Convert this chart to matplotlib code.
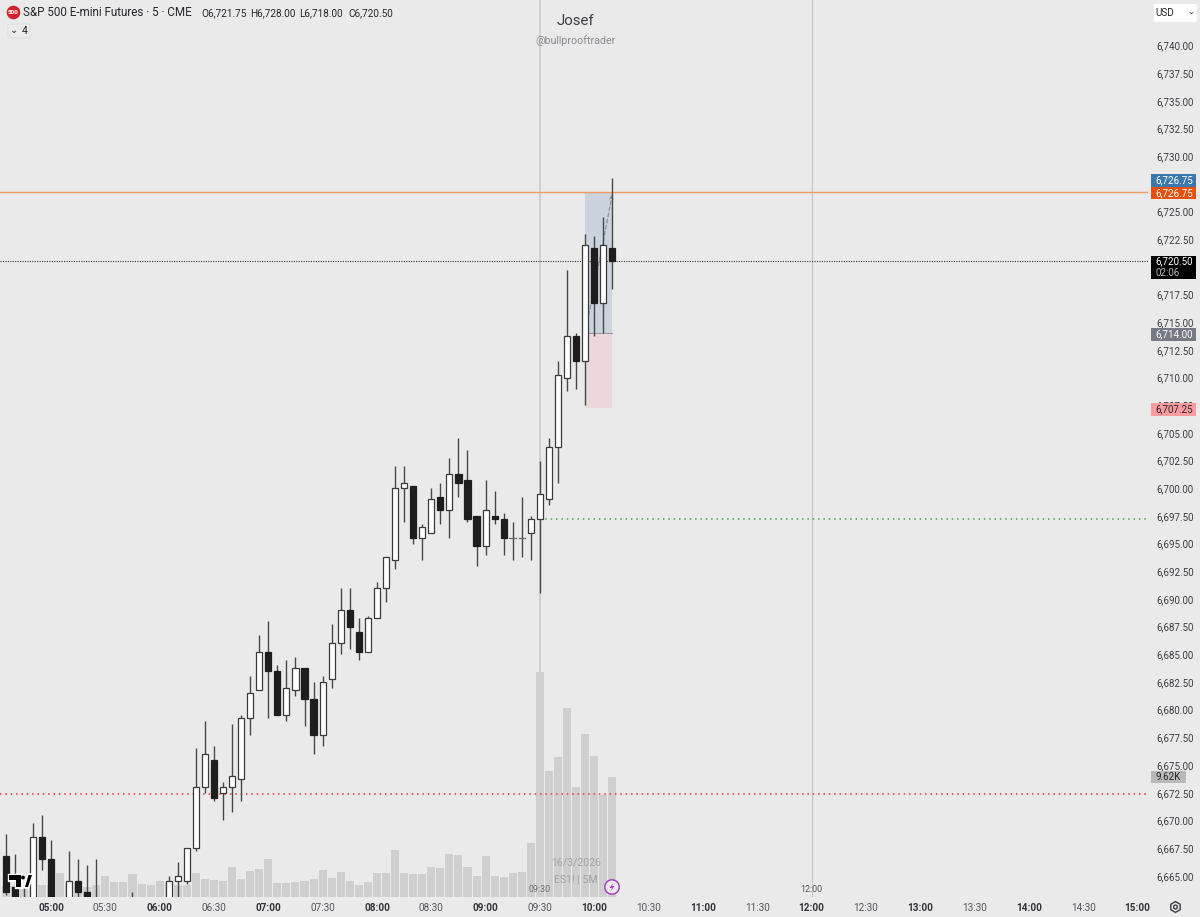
""" ES1! 5 minute candles with volume, TradingView look """

import matplotlib
import matplotlib.pyplot as plt
import matplotlib.patheffects as pe
from matplotlib.patches import Circle, FancyBboxPatch, Polygon, Rectangle, RegularPolygon

matplotlib.use('Agg')
plt.rcParams['font.family'] = ['Roboto', 'DejaVu Sans']

W, H = 1200, 917
BG = "#eaeaea"

# bar index 0 is 05:00, one bar is 5 minutes
BAR_START = -5
OPENS = [6666.75, 6664, 6662, 6660, 6668.5, 6666.5, 6660, 6661, 6664.5, 6663.5, 6661,
         6660, 6660, 6660, 6660, 6660, 6660, 6660, 6661, 6664.5, 6664.5, 6667.5, 6673,
         6675.5, 6672.5, 6673, 6673.75, 6679.25, 6681.75, 6685.25, 6683.5, 6679.5, 6681.75,
         6683.75, 6681, 6677.75, 6682.75, 6686, 6689, 6687, 6685.25, 6688.25, 6691, 6693.5,
         6700, 6700.25, 6695.5, 6696, 6699.25, 6698, 6701.25, 6700.75, 6697.5, 6694.75,
         6697.5, 6697.25, 6695.5, 6695.5, 6696, 6697.25, 6699, 6703.75, 6710, 6713.75,
         6711.5, 6721.75, 6716.75, 6721.75]
HIGHS = [6668.75, 6667, 6664, 6669.75, 6670.5, 6668.25, 6662, 6667.25, 6666.5, 6666, 6666.5,
         6662, 6662, 6662, 6663.5, 6662, 6662, 6662, 6665, 6666.25, 6667.5, 6676.5, 6679,
         6676.75, 6673.5, 6678.75, 6679.5, 6683, 6686.75, 6688, 6684, 6684.5, 6684.75,
         6683.75, 6682.5, 6683, 6687.75, 6691, 6691, 6688.25, 6688.5, 6691.5, 6693.75, 6702,
         6702, 6700.25, 6696.75, 6700, 6700.5, 6702.75, 6704.5, 6703.5, 6697.5, 6700.75,
         6699.75, 6697.75, 6697, 6699.25, 6697.5, 6702.5, 6704.5, 6711.5, 6719.75, 6714,
         6723, 6722.75, 6724.5, 6728]
LOWS = [6663.25, 6660, 6660, 6659, 6665.5, 6659, 6658, 6660, 6662, 6660, 6659,
        6658, 6658, 6658, 6658, 6658, 6658, 6658, 6660, 6662, 6664.25, 6667.25, 6672.5,
        6671.75, 6670, 6670.75, 6671.75, 6677.75, 6681.75, 6679.25, 6679.5, 6679, 6681.25,
        6678.5, 6676, 6676.75, 6682, 6685, 6685.5, 6684.5, 6685.25, 6688.25, 6689.75, 6692.75,
        6697, 6695, 6693.5, 6696, 6696.75, 6695.5, 6699.25, 6697, 6693, 6694,
        6696.75, 6694, 6693.5, 6693.75, 6693.5, 6690.5, 6698.5, 6700.5, 6708.75, 6709,
        6707.5, 6713.75, 6714, 6718]
CLOSES = [6663.5, 6661, 6661, 6668.5, 6666.5, 6660, 6661, 6664.5, 6663.5, 6661, 6660,
          6660, 6660, 6660, 6660, 6660, 6660, 6660, 6664.5, 6665, 6667.5, 6673, 6676,
          6672, 6673, 6674, 6679.25, 6681.5, 6685.25, 6683.5, 6679.5, 6682, 6683.75,
          6681, 6677.75, 6682.5, 6686, 6689, 6687.5, 6685.25, 6688.25, 6691, 6693.75, 6700,
          6700.5, 6695.5, 6696.5, 6699, 6698, 6701.25, 6700.5, 6697.25, 6694.75, 6698,
          6697.25, 6695.5, 6695.5, 6695.5, 6697.25, 6699.5, 6703.75, 6710.25, 6713.75, 6711.5,
          6722, 6716.75, 6722, 6720.5]
VOLUMES_K = [0.9, 0.9, 0.9, 0.9, 0.96, 0.96, 1.9, 1.15, 1.15, 0.8, 0.96,
             1.66, 1.23, 1.2, 1.84, 1.04, 0.94, 1.28, 1.15, 0.96, 0.96, 1.9, 1.42,
             1.36, 1.28, 2.38, 1.44, 2.09, 2.25, 3.05, 1.12, 1.12, 1.23,
             1.28, 1.42, 2.14, 1.5, 2.0, 1.28, 0.94, 1.18, 1.95, 1.9, 3.77,
             1.95, 1.84, 1.84, 2.43, 2.33, 3.45, 3.39, 2.38, 1.71, 3.29,
             1.66, 1.6, 1.9, 2.0, 4.33, 18.02, 10.1, 11.23, 15.13, 8.82,
             13.07, 11.28, 8.12, 9.62]

PRICE_TICKS = [6665 + 2.5 * k for k in range(31)]
COVERED_TICKS = [6720.0, 6727.5]  # sit fully under the price tags
TIME_LABELS = ["05:00", "05:30", "06:00", "06:30", "07:00", "07:30", "08:00", "08:30", "09:00",
               "09:30", "10:00", "10:30", "11:00", "11:30", "12:00", "12:30", "13:00", "13:30",
               "14:00", "14:30", "15:00"]

ENTRY, TARGET, STOP = 6714.0, 6726.75, 6707.25
LAST = 6720.5
GREEN_LEVEL, RED_LEVEL = 6697.25, 6672.4
OPEN_BAR, NOON_BAR = 54, 84
POS_START, POS_END = 59, 62


def px(x, y):
    """ Figure fraction from picture pixels """
    return x / W, 1 - y / H


def scale_tag(fig, top, bottom, text, face, color="white", right=1196, text_x=1174):
    """ Price scale tag on the right side """
    fig.patches.append(Rectangle((1151, H - bottom), right - 1151, bottom - top, transform=None,
                                 fc=face, ec="none", zorder=19))
    fig.text(*px(text_x, (top + bottom) / 2), text, fontsize=7, color=color, ha="center",
             va="center", zorder=20)


fig = plt.figure(figsize=(12, 9.17), dpi=100, facecolor=BG)

# volume, 9.62K is 120 px, sits under the price pane
vol_ax = fig.add_axes([0, 20 / H, 1148 / W, 897 / H], facecolor=BG, zorder=0)
ax = fig.add_axes([0, 20 / H, 1148 / W, 897 / H], zorder=1)
ax.patch.set_visible(False)
for axis in (ax, vol_ax):
    for side in axis.spines.values():
        side.set_visible(False)

# px per price 11.07, px per bar 9.054
ax.set_ylim(6740 - 851.5 / 11.07, 6740 + 45.5 / 11.07)
ax.set_xlim(-51 / 9.054, (1148 - 51) / 9.054)
vol_ax.set_xlim(ax.get_xlim())
vol_ax.set_ylim(0, 897 * 9.62 / 120.3)
vol_ax.set_xticks([])
vol_ax.set_yticks([])

ax.yaxis.tick_right()
ax.set_yticks(PRICE_TICKS)
ax.set_yticklabels(["" if p in COVERED_TICKS else f"{p:,.2f}" for p in PRICE_TICKS], ha="left")
ax.tick_params(axis="y", length=0, pad=5.8, labelsize=7, labelcolor="#3c3c44")
ax.set_xticks(range(0, 6 * len(TIME_LABELS), 6))
ax.set_xticklabels(TIME_LABELS)
ax.tick_params(axis="x", length=0, pad=4, labelsize=7.2, labelcolor="#55555c")
for tick in ax.get_xticklabels():
    if tick.get_text().endswith(":00"):
        tick.set_fontweight("bold")
        tick.set_color("#33333a")

xs = [BAR_START + k for k in range(len(OPENS))]

vol_ax.bar(xs, VOLUMES_K, width=0.89, color="#cfcfcf", linewidth=0)

ax.axvline(OPEN_BAR, color="#d0d0d0", lw=1.4, zorder=1)
ax.axvline(NOON_BAR, color="#c4c4c4", lw=0.8, zorder=1)

# long position box
ax.fill_between([POS_START, POS_END], ENTRY, TARGET, color="#cbd3de", lw=0, zorder=1.2)
ax.fill_between([POS_START, POS_END], STOP, ENTRY, color="#ecd8db", lw=0, zorder=1.2)
ax.plot([POS_START, POS_END], [ENTRY, ENTRY], color="#8d93a0", lw=0.7, zorder=1.3)
ax.annotate("", xy=(POS_END, TARGET - 0.2), xytext=(POS_START, ENTRY), zorder=1.4,
            arrowprops=dict(arrowstyle="->", color="#8f939c", lw=0.9, ls=(0, (3, 2)),
                            shrinkA=0, shrinkB=0, mutation_scale=6))

ax.axhline(TARGET, color="#ee9b68", lw=1.0, zorder=1.5)
ax.axhline(LAST, color="#333333", lw=0.8, ls=(0, (1, 1.2)), zorder=1.5)
ax.plot([OPEN_BAR, ax.get_xlim()[1]], [GREEN_LEVEL, GREEN_LEVEL], color="#3fae46", lw=1.1,
        ls=(0, (1, 2.5)), zorder=1.5)
ax.axhline(RED_LEVEL, color="#f0303f", lw=1.1, ls=(0, (1, 2.5)), zorder=1.5)

# candles
ax.vlines(xs, LOWS, HIGHS, color="#484848", lw=1.0, zorder=3)
for x, o, c in zip(xs, OPENS, CLOSES):
    if c == o:
        ax.plot([x - 0.36, x + 0.36], [c, c], color="#666666", lw=0.9, zorder=4)
        continue
    up = c > o
    ax.bar(x, abs(c - o), bottom=min(o, c), width=0.68, zorder=4,
           color="white" if up else "#1e1e1e", edgecolor="#3a3a3a" if up else "#1e1e1e",
           linewidth=0.9)

# header
fig.patches.append(Circle((13.5, H - 12.5), 6.8, transform=None, fc="#d3202c", ec="none"))
fig.text(*px(13.5, 12.8), "500", color="white", fontsize=4.6, fontweight="bold",
         ha="center", va="center")
fig.text(*px(23, 13), "S&P 500 E-mini Futures · 5 · CME", fontsize=8.4, color="#26262c",
         va="center")
fig.text(*px(201, 13), "O6,721.75", fontsize=7.2, color="#26262c", va="center")
fig.text(*px(250, 13), "H6,728.00", fontsize=7.2, color="#26262c", va="center")
fig.text(*px(299.5, 13), "L6,718.00", fontsize=7.2, color="#26262c", va="center")
fig.text(*px(348, 13), "C6,720.50", fontsize=7.2, color="#26262c", va="center")
fig.patches.append(FancyBboxPatch((8, H - 38), 22, 14, boxstyle="round,pad=0,rounding_size=2",
                                  transform=None, fc="#ebebeb", ec="#dedede", lw=0.7))
fig.text(*px(14.5, 30), "⌄", fontsize=7, color="#26262c", ha="center", va="center",
         family="DejaVu Sans")
fig.text(*px(24.5, 31), "4", fontsize=7.5, color="#26262c", ha="center", va="center")

# watermark
fig.text(*px(575.5, 21), "Josef", fontsize=10.8, color="#3f3f46", ha="center", va="center")
fig.text(*px(575.5, 41), "@bullprooftrader", fontsize=7.7, color="#8b8b92", ha="center", va="center")
fig.text(*px(576, 862), "16/3/2026", fontsize=7.6, color="#a2a2a8", ha="center", va="center")
fig.text(*px(576, 880), "ES1! | 5M", fontsize=7.6, color="#a2a2a8", ha="center", va="center")
fig.text(*px(540, 890), "09:30", fontsize=6.4, color="#6f6f76", ha="center", va="center", zorder=6)
fig.text(*px(811, 890), "12:00", fontsize=6.4, color="#55555c", ha="center", va="center", zorder=6)

# purple badge
fig.patches.append(Circle((612, H - 887), 7.2, transform=None, fc="#ebebeb", ec="#a93fc4", lw=1.1,
                          zorder=8))
fig.patches.append(Polygon([(613.5, H - 882.5), (609.5, H - 888), (612, H - 888), (610.5, H - 891.5),
                            (614.5, H - 886), (612, H - 886)], transform=None, fc="#a93fc4",
                           ec="none", zorder=9))

# tradingview logo
halo = [pe.withStroke(linewidth=2.4, foreground="white")]
for pts in ([(9, 875), (21, 875), (21, 887), (16, 887), (16, 880), (9, 880)],
            [(25, 887), (28.5, 875), (32, 875), (28, 887)]):
    logo = Polygon([(x, H - y) for x, y in pts], transform=None, fc="black", ec="none", zorder=10)
    logo.set_path_effects(halo)
    fig.patches.append(logo)
fig.patches.append(Circle((23, H - 877.5), 1.9, transform=None, fc="black", ec="none", zorder=10))

# scale tags
scale_tag(fig, 174, 187, "6,726.75", "#3d78ad")
scale_tag(fig, 187, 199, "6,726.75", "#e6500c")
scale_tag(fig, 328, 341, "6,714.00", "#767a85")
scale_tag(fig, 403, 416, "6,707.25", "#fb9da0", color="#26262c")
scale_tag(fig, 771, 783, "9.62K", "#b9b9b9", color="#26262c", right=1186, text_x=1168.5)
fig.patches.append(Rectangle((1151, H - 279), 45, 23.5, transform=None, fc="black", ec="none",
                             zorder=19))
fig.text(*px(1174, 261), "6,720.50", fontsize=7, color="white", ha="center", va="center", zorder=20)
fig.text(*px(1168, 273), "02:06", fontsize=7, color="#b9b9b9", ha="center", va="center", zorder=20)

# top right selector and bottom right settings
fig.patches.append(FancyBboxPatch((1154, H - 22), 43, 18, boxstyle="round,pad=0,rounding_size=2",
                                  transform=None, fc="white", ec="none"))
fig.text(*px(1164.5, 12.5), "USD", fontsize=7.2, color="#26262c", ha="center", va="center")
fig.text(*px(1191, 12), "⌄", fontsize=6, color="#26262c", ha="center", va="center",
         family="DejaVu Sans")
fig.patches.append(RegularPolygon((1175.5, H - 907), 6, radius=5.4, orientation=0, transform=None,
                                  fc="none", ec="#3c3c44", lw=1))
fig.patches.append(Circle((1175.5, H - 907), 1.9, transform=None, fc="none", ec="#3c3c44", lw=1))

fig.savefig("out.png", dpi=100, facecolor=BG)
